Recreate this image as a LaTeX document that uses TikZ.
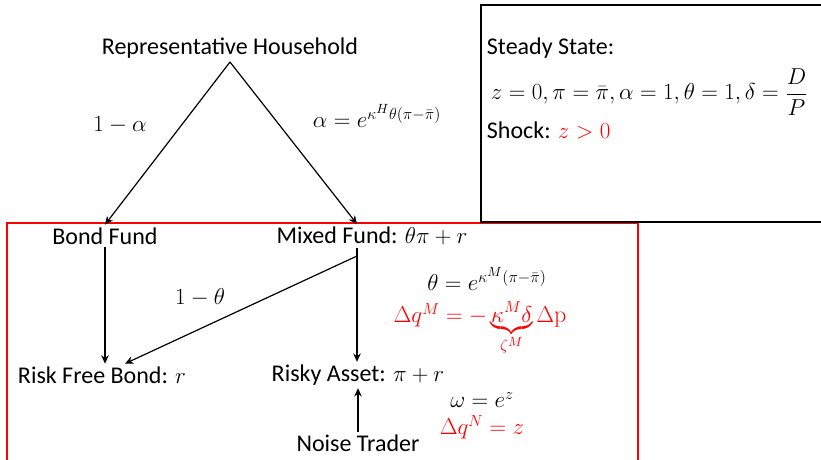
\documentclass[tikz,border=0pt]{standalone}
\usepackage{amsmath}
\usepackage{fontspec}
\setmainfont{Carlito}
\newfontfamily\serifup{Latin Modern Roman}
\DeclareMathSizes{18}{18}{13}{10}
\usetikzlibrary{positioning,arrows.meta,calc}
\tikzset{
  txt/.style={font=\fontsize{18}{21}\selectfont, inner sep=2pt, align=center},
  redtxt/.style={txt, text=red},
  flow/.style={-{Stealth[length=2.2mm,width=2mm]}, line width=0.9pt, draw=black},
  boxline/.style={line width=1.6pt, draw=black},
  redline/.style={line width=1.2pt, draw=red},
}

\begin{document}
\begin{tikzpicture}[x=0.75pt, y=-0.75pt]
    \useasboundingbox (0,0) rectangle (821,460);
    % frames
    \draw[redline] (7,470) |- (638,223) -- (638,470);
    \draw[boxline] (830,5) -| (481,222) -- (830,222);

    % household and funds
    \node[txt] (hh) at (230,48) {Representative Household};
    \coordinate (htop) at (230,62);
    \node[txt] (bond) at (105,236) {Bond Fund};
    \node[txt] (mixed) at (372,236) {Mixed Fund: $\theta\pi+r$};
    \coordinate (mtop) at (357,256);
    \node[txt] (riskfree) at (102,375) {Risk Free Bond: $r$};
    \node[txt] (risky) at (358,375) {Risky Asset: $\pi+r$};
    \node[txt] (noise) at (358,443) {Noise Trader};

    \draw[flow] (htop) -- (bond.north);
    \draw[flow] (htop) -- (mixed.north -| mtop);
    \node[txt] (la) at (120,125) {$1-\alpha$};
    \node[txt] (lb) at (377,116) {$\alpha=e^{\kappa^H\theta(\pi-\bar{\pi})}$};

    \draw[flow] (bond.south) -- (riskfree.north -| bond);
    \draw[line width=0.9pt] (mixed.south -| mtop) -- (mtop);
    \draw[flow] (mtop) -- (risky.north -| mtop);
    \draw[flow] (mtop) -- ($(riskfree.north)+(23,0)$);
    \node[txt] (lt) at (200,297) {$1-\theta$};
    \draw[flow] (noise.north) -- (risky.south);

    % mixed fund rule
    \node[txt] (thrule) at (487,279) {$\theta=e^{\kappa^M(\pi-\bar{\pi})}$};
    \node[redtxt, anchor=north] (dqm) at (480,299)
      {$\Delta q^M=-\underbrace{\kappa^M\delta}_{\zeta^M}\Delta\text{\serifup p}$};
    % noise trader
    \node[txt] (omega) at (482,400) {$\omega=e^z$};
    \node[redtxt] (dqn) at (482,427) {$\Delta q^N=z$};

    % steady state box
    \node[txt, anchor=west] (ss) at (484,48) {Steady State:};
    \node[txt, anchor=west] (sseq) at (488,92)
      {$z=0,\pi=\bar{\pi},\alpha=1,\theta=1,\delta=\dfrac{D}{P}$};
    \node[txt, anchor=west] (shock) at (484,130) {Shock: \textcolor{red}{$z>0$}};
\end{tikzpicture}
\end{document}
